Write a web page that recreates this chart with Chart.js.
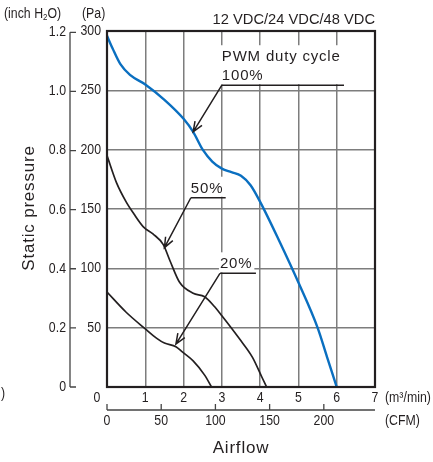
<!DOCTYPE html>
<html>
<head>
<meta charset="utf-8">
<script src="https://cdn.jsdelivr.net/npm/chart.js@4.4.0/dist/chart.umd.min.js"></script>
<style>
  html, body { margin: 0; padding: 0; background: #fff; }
  #wrap { width: 433px; height: 462px; position: relative; }
</style>
</head>
<body>
<div id="wrap"><canvas id="pq"></canvas></div>
<script>
// airflow (m3/min) vs static pressure (Pa)
const flow100 = [0, 0.15, 0.35, 0.6, 1, 1.5, 2, 2.25, 2.5, 2.75, 3, 3.25, 3.5, 3.75, 4, 4.5, 5, 5.5, 5.75, 6.0];
const pa100   = [296, 285, 272, 263, 255, 242, 226, 215, 200, 190, 184, 181, 178, 170, 156, 123, 88, 50, 25, 0];

const flow50 = [0, 0.25, 0.5, 0.7, 0.95, 1.2, 1.47, 1.65, 1.9, 2.25, 2.55, 2.8, 3.0, 3.45, 3.8, 4.05, 4.17];
const pa50   = [195, 172, 156, 146, 135, 129, 120, 106, 88, 79, 76, 68, 60, 41, 25, 8, 0];

const flow20 = [0, 0.5, 1, 1.3, 1.5, 1.8, 1.95, 2.25, 2.55, 2.73];
const pa20   = [80, 63, 49, 41, 37, 34, 30, 22, 10, 0];

const flowTicks = [0, 1, 2, 3, 4, 5, 6, 7];
const cfmTicks = [0, 50, 100, 150, 200];
const paTicks = [50, 100, 150, 200, 250, 300];
const inchTicks = [0, 0.2, 0.4, 0.6, 0.8, 1.0, 1.2];

const CFM_PER_M3MIN = 35.3147;
const PA_PER_INCH = 249.089;

const pts = (xs, ys) => xs.map((x, i) => ({ x: x, y: ys[i] }));

const SANS = '"Liberation Sans", Arial, sans-serif';
const INK = '#231f20';

// leader lines: tip on the curve, elbow, end of the underline (data units)
const leaders = [
    { tip: [2.25, 215], elbow: [3.0, 254.3], end: 6.19, lines: ['PWM duty cycle', '100%'] },
    { tip: [1.50, 117.4], elbow: [2.19, 159.5], end: 3.10, lines: ['50%'] },
    { tip: [1.80, 36.2], elbow: [2.95, 95.8], end: 3.89, lines: ['20%'] }
];

const drawArrow = (ctx, x0, y0, x1, y1) => {
    ctx.beginPath();
    ctx.moveTo(x0, y0);
    ctx.lineTo(x1, y1);
    const a = Math.atan2(y1 - y0, x1 - x0);
    const len = 11, spread = 0.38;
    ctx.moveTo(x1 - len * Math.cos(a - spread), y1 - len * Math.sin(a - spread));
    ctx.lineTo(x1, y1);
    ctx.lineTo(x1 - len * Math.cos(a + spread), y1 - len * Math.sin(a + spread));
    ctx.stroke();
};

// condensed look for the axis numbers: squeeze regular text horizontally
const narrow = (ctx, text, x, y, align, size) => {
    ctx.save();
    ctx.font = (size || 14) + 'px ' + SANS;
    ctx.textAlign = align;
    ctx.textBaseline = 'middle';
    ctx.translate(x, y);
    ctx.scale(0.88, 1);
    ctx.fillText(text, 0, 0);
    const w = ctx.measureText(text).width * 0.88;
    ctx.restore();
    return w;
};

const decorations = {
    id: 'decorations',
    afterDatasetsDraw(chart) {
        const ctx = chart.ctx;
        const xs = chart.scales.x, ys = chart.scales.y;
        const area = chart.chartArea;
        ctx.save();

        // labels over white patches, with leader lines
        leaders.forEach(l => {
            const ex = xs.getPixelForValue(l.elbow[0]);
            const ey = ys.getPixelForValue(l.elbow[1]);
            const endX = xs.getPixelForValue(l.end);
            ctx.font = '15px ' + SANS;
            ctx.letterSpacing = '0.8px';
            let w = 0;
            l.lines.forEach(t => { w = Math.max(w, ctx.measureText(t).width); });
            const h = l.lines.length * 19;
            ctx.fillStyle = '#fff';
            ctx.fillRect(ex - 1, ey - h - 2, w + 3, h + 1);
            ctx.fillStyle = INK;
            ctx.textAlign = 'left';
            ctx.textBaseline = 'middle';
            l.lines.forEach((t, i) => {
                ctx.fillText(t, ex, ey - 9 - (l.lines.length - 1 - i) * 19);
            });
            ctx.letterSpacing = '0px';
            ctx.strokeStyle = INK;
            ctx.lineWidth = 1.5;
            ctx.beginPath();
            ctx.moveTo(endX, ey);
            ctx.lineTo(ex, ey);
            ctx.stroke();
            drawArrow(ctx, ex, ey, xs.getPixelForValue(l.tip[0]), ys.getPixelForValue(l.tip[1]));
        });

        // plot frame
        ctx.strokeStyle = INK;
        ctx.lineWidth = 2.2;
        ctx.strokeRect(area.left, area.top, area.right - area.left, area.bottom - area.top);

        ctx.fillStyle = INK;

        // Pa labels
        paTicks.forEach(v => narrow(ctx, String(v), 101, ys.getPixelForValue(v), 'right'));

        // inch H2O axis
        const ix = 70;
        ctx.strokeStyle = '#444';
        ctx.lineWidth = 1.3;
        ctx.beginPath();
        ctx.moveTo(ix, ys.getPixelForValue(inchTicks[inchTicks.length - 1] * PA_PER_INCH));
        ctx.lineTo(ix, ys.getPixelForValue(0));
        inchTicks.forEach(v => {
            const y = ys.getPixelForValue(v * PA_PER_INCH);
            ctx.moveTo(ix, y);
            ctx.lineTo(ix + 6, y);
        });
        ctx.stroke();
        inchTicks.forEach(v => {
            narrow(ctx, v === 0 ? '0' : v.toFixed(1), 66, ys.getPixelForValue(v * PA_PER_INCH), 'right');
        });

        // unit captions on the left
        let wx = 4;
        wx += narrow(ctx, '(inch H', wx, 14, 'left');
        wx += narrow(ctx, '2', wx, 18, 'left', 9);
        narrow(ctx, 'O)', wx, 14, 'left');
        narrow(ctx, '(Pa)', 82, 14, 'left');
        narrow(ctx, ')', 1, 394, 'left');

        // m3/min labels
        flowTicks.forEach(v => {
            const x = xs.getPixelForValue(v) - (v === 0 ? 10 : 0);
            narrow(ctx, String(v), x, 398, 'center');
        });
        narrow(ctx, '(m³/min)', 385, 398, 'left');

        // CFM axis
        const cy = 410;
        ctx.strokeStyle = '#444';
        ctx.lineWidth = 1.3;
        ctx.beginPath();
        ctx.moveTo(area.left, cy);
        ctx.lineTo(area.right, cy);
        cfmTicks.forEach(v => {
            const x = xs.getPixelForValue(v / CFM_PER_M3MIN);
            ctx.moveTo(x, cy);
            ctx.lineTo(x, cy - 6);
        });
        ctx.stroke();
        cfmTicks.forEach(v => narrow(ctx, String(v), xs.getPixelForValue(v / CFM_PER_M3MIN), 421, 'center'));
        narrow(ctx, '(CFM)', 385, 421, 'left');

        // titles
        ctx.font = '14.7px ' + SANS;
        ctx.textAlign = 'right';
        ctx.textBaseline = 'middle';
        ctx.fillText('12 VDC/24 VDC/48 VDC', area.right, 20);

        ctx.font = '17px ' + SANS;
        ctx.letterSpacing = '0.8px';
        ctx.textAlign = 'center';
        ctx.fillText('Airflow', 241, 448);

        ctx.translate(29, 208);
        ctx.rotate(-Math.PI / 2);
        ctx.fillText('Static pressure', 0, 0);
        ctx.restore();
    }
};

const lineSet = (data, color, width) => ({
    data: data,
    showLine: true,
    borderColor: color,
    borderWidth: width,
    pointRadius: 0,
    cubicInterpolationMode: 'monotone',
    fill: false
});

new Chart(document.getElementById('pq'), {
    type: 'scatter',
    data: {
        datasets: [
            lineSet(pts(flow100, pa100), '#0a6fc0', 2.4),
            lineSet(pts(flow50, pa50), INK, 1.7),
            lineSet(pts(flow20, pa20), INK, 1.7)
        ]
    },
    options: {
        responsive: true,
        maintainAspectRatio: false,
        animation: false,
        events: [],
        layout: { padding: { left: 107, right: 58, top: 31, bottom: 75 } },
        plugins: { legend: { display: false }, tooltip: { enabled: false } },
        scales: {
            x: {
                type: 'linear', min: 0, max: 7,
                ticks: { stepSize: 1, display: false },
                grid: { color: '#7d7d7d', lineWidth: 1.5, drawTicks: false },
                border: { display: false },
                afterFit: s => { s.height = 0; }
            },
            y: {
                type: 'linear', min: 0, max: 300,
                ticks: { stepSize: 50, display: false },
                grid: { color: '#7d7d7d', lineWidth: 1.5, drawTicks: false },
                border: { display: false },
                afterFit: s => { s.width = 0; }
            }
        }
    },
    plugins: [decorations]
});
</script>
</body>
</html>
